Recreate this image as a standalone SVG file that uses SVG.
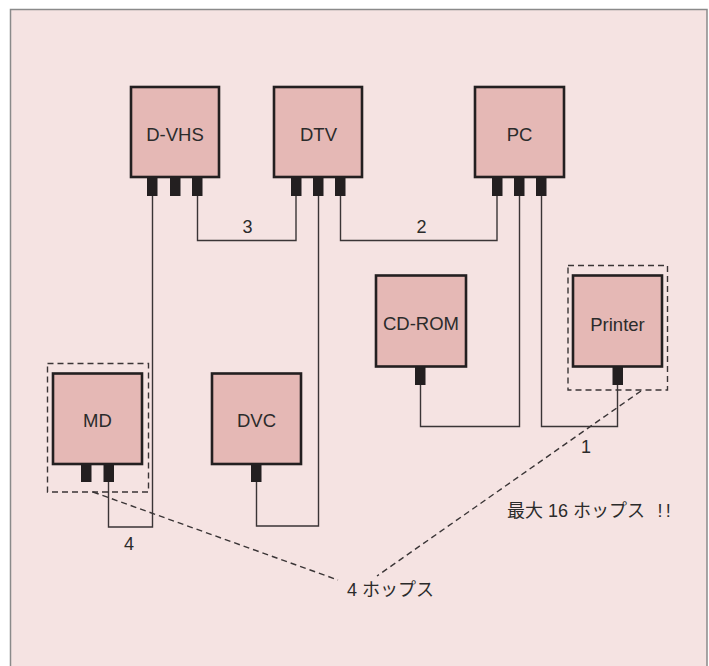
<svg xmlns="http://www.w3.org/2000/svg" width="709" height="666" viewBox="0 0 709 666">
<style>
.box{fill:#e5b8b5;stroke:#231f20;stroke-width:2.6}
.port{fill:#231f20}
.lbl{font-family:"Liberation Sans",Arial,sans-serif;font-size:18.5px;fill:#2b2b2b;text-anchor:middle}
.num{font-family:"Liberation Sans",Arial,sans-serif;font-size:18px;fill:#2b2b2b;text-anchor:middle}
.jp{font-family:"Liberation Sans","Noto Sans CJK JP",sans-serif;font-size:18px;fill:#2b2b2b}
.wire{fill:none;stroke:#3a3536;stroke-width:1.4}
.dash{fill:none;stroke:#3a3536;stroke-width:1.4;stroke-dasharray:6 4}
</style>
<rect x="10.5" y="9.5" width="696.5" height="680" fill="#f5e3e2" stroke="#8a8a8a" stroke-width="1.5"/>
<g id="connectors">
<path class="wire" d="M152.5,196 V527 H108.5 V482"/>
<path class="wire" d="M197.5,196 V240.5 H296 V196"/>
<path class="wire" d="M318.5,196 V526 H256.5 V482"/>
<path class="wire" d="M340.5,196 V240.5 H497 V196"/>
<path class="wire" d="M519.5,196 V426.5 H420.5 V385"/>
<path class="wire" d="M541.5,196 V426.5 H617.5 V385"/>
<path class="dash" d="M93,492 L338,580"/>
<path class="dash" d="M641,391 L377,576"/>
</g>
<g id="n-dvhs">
<rect class="box" x="131" y="87" width="88" height="90"/>
<rect class="port" x="147" y="177" width="10.5" height="19"/>
<rect class="port" x="170" y="177" width="10.5" height="19"/>
<rect class="port" x="192" y="177" width="10.5" height="19"/>
<text class="lbl" x="175" y="141">D-VHS</text>
</g>
<g id="n-dtv">
<rect class="box" x="274" y="87" width="88" height="90"/>
<rect class="port" x="291" y="177" width="10.5" height="19"/>
<rect class="port" x="313" y="177" width="10.5" height="19"/>
<rect class="port" x="335" y="177" width="10.5" height="19"/>
<text class="lbl" x="318.5" y="141">DTV</text>
</g>
<g id="n-pc">
<rect class="box" x="475" y="87" width="89" height="90"/>
<rect class="port" x="492" y="177" width="10.5" height="19"/>
<rect class="port" x="514" y="177" width="10.5" height="19"/>
<rect class="port" x="536" y="177" width="10.5" height="19"/>
<text class="lbl" x="519.5" y="141">PC</text>
</g>
<g id="n-cdrom">
<rect class="box" x="376" y="275.5" width="90" height="91"/>
<rect class="port" x="415" y="366.5" width="10.5" height="18.5"/>
<text class="lbl" x="421" y="330">CD-ROM</text>
</g>
<g id="n-printer">
<rect class="dash" x="568" y="265.5" width="99.5" height="124.5"/>
<rect class="box" x="573" y="275.5" width="89" height="91"/>
<rect class="port" x="612.5" y="366.5" width="10.5" height="18.5"/>
<text class="lbl" x="617.5" y="330.5">Printer</text>
</g>
<g id="n-md">
<rect class="dash" x="47.5" y="363.5" width="101" height="128.5"/>
<rect class="box" x="53" y="373.5" width="89" height="90.5"/>
<rect class="port" x="81" y="464" width="10.5" height="18"/>
<rect class="port" x="103.5" y="464" width="10.5" height="18"/>
<text class="lbl" x="97.5" y="427">MD</text>
</g>
<g id="n-dvc">
<rect class="box" x="212" y="373.5" width="89" height="90.5"/>
<rect class="port" x="251" y="464" width="10.5" height="18"/>
<text class="lbl" x="256.5" y="427">DVC</text>
</g>
<g id="labels">
<text class="num" x="247.5" y="233">3</text>
<text class="num" x="421.5" y="233">2</text>
<text class="num" x="586" y="453">1</text>
<text class="num" x="129" y="550">4</text>
<text class="jp" x="347" y="596">4 ホップス</text>
<text class="jp" x="507" y="517">最大 16 ホップス <tspan x="657.5" letter-spacing="3.3">!!</tspan></text>
</g>
</svg>
